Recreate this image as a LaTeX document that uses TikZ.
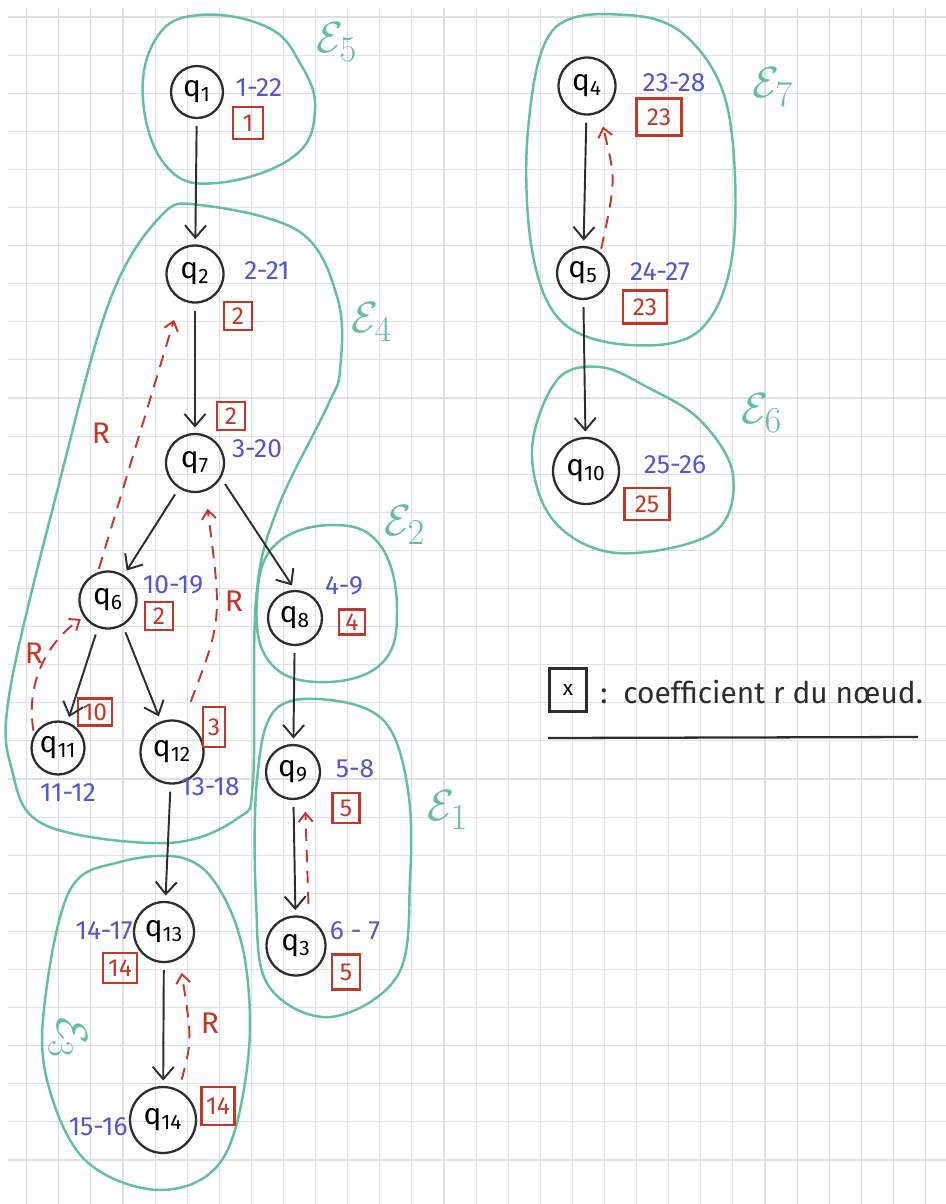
\documentclass[tikz,border=0pt]{standalone}
\usepackage{fontspec}
\setmainfont{Fira Sans}
\usetikzlibrary{arrows.meta,calc}
\definecolor{gridc}{RGB}{222,224,228}
\definecolor{greenc}{RGB}{100,190,160}
\definecolor{bluec}{RGB}{85,85,205}
\definecolor{redc}{RGB}{195,55,40}
\definecolor{inkc}{RGB}{45,45,45}
\begin{document}
\begin{tikzpicture}[x=0.02cm,y=-0.02cm,
  qnode/.style={circle, draw=inkc, line width=1.3pt, minimum size=1.12cm, inner sep=0pt, font=\fontsize{17}{17}\selectfont},
  num/.style={text=bluec, inner sep=0pt, font=\fontsize{15}{15}\selectfont},
  rbox/.style={draw=redc, line width=1.2pt, text=redc, inner sep=0pt, minimum width=0.56cm, minimum height=0.56cm, font=\fontsize{14}{14}\selectfont},
  arr/.style={draw=inkc, line width=1.1pt, -{Straight Barb[length=7pt,width=12pt,line width=1.1pt]}, shorten >=3pt, shorten <=4pt},
  back/.style={draw=redc, line width=1.1pt, dash pattern=on 7pt off 5pt, -{Straight Barb[length=5pt,width=8pt,line width=1.1pt]}},
  clus/.style={draw=greenc, line width=1.4pt},
  elab/.style={text=greenc, inner sep=0pt, font=\fontsize{30}{30}\selectfont},
  rlab/.style={text=redc, inner sep=0pt, font=\fontsize{17}{17}\selectfont}]
% background and grid
\fill[white] (0,0) rectangle (946,1204);
\useasboundingbox (0,0) rectangle (946,1204);
\foreach \i in {0,...,28} \draw[gridc, line width=0.6pt] ({26.7+32.1*\i},8) -- ({26.7+32.1*\i},1204);
\foreach \j in {0,...,30} \draw[gridc, line width=0.6pt] (8,{17+38.1*\j}) -- (946,{17+38.1*\j});

% clusters
\draw[clus] plot[smooth cycle, tension=0.7] coordinates {(200,15) (267,27) (300,63) (315,110) (293,157) (217,183) (167,167) (143,100) (157,37)};
\draw[clus] plot[smooth cycle, tension=0.6] coordinates {(200,205) (300,232) (338,300) (340,370) (328,405) (277,510) (256,600) (253,780) (238,818) (167,843) (45,825) (12,770) (10,690) (60,480) (110,300) (160,217)};
\draw[clus] plot[smooth cycle, tension=0.7] coordinates {(333,525) (380,545) (397,610) (380,665) (317,682) (268,660) (257,600) (275,545)};
\draw[clus] plot[smooth cycle, tension=0.6] coordinates {(275,710) (330,700) (385,722) (408,790) (410,880) (398,975) (330,1017) (268,985) (256,900) (257,780)};
\draw[clus] plot[smooth cycle, tension=0.6] coordinates {(183,858) (220,890) (245,960) (248,1060) (222,1160) (160,1190) (85,1160) (47,1080) (45,1000) (70,890) (120,862)};
\draw[clus] plot[smooth cycle, tension=0.6] coordinates {(627,15) (687,37) (728,110) (733,250) (700,330) (630,345) (562,322) (532,250) (528,130) (553,30)};
\draw[clus] plot[smooth cycle, tension=0.6] coordinates {(600,367) (647,387) (700,420) (733,475) (713,533) (617,553) (553,520) (532,450) (557,380)};

% cluster labels
\node[elab] (e5) at (337,42) {$\mathcal{E}_5$};
\node[elab] (e4) at (372,322) {$\mathcal{E}_4$};
\node[elab] (e2) at (405,525) {$\mathcal{E}_2$};
\node[elab] (e1) at (448,810) {$\mathcal{E}_1$};
\node[elab, rotate=-90] (e3) at (68,1038) {$\mathcal{E}_3$};
\node[elab] (e7) at (773,87) {$\mathcal{E}_7$};
\node[elab] (e6) at (762,413) {$\mathcal{E}_6$};

% nodes
\node[qnode, minimum size=1.04cm] (q1) at (197,92) {q\textsubscript{1}};
\node[qnode, minimum size=1.14cm] (q2) at (195,274) {q\textsubscript{2}};
\node[qnode, minimum size=1.16cm] (q7) at (195,463) {q\textsubscript{7}};
\node[qnode, minimum size=1.14cm] (q6) at (108,600) {q\textsubscript{6}};
\node[qnode, minimum size=1.06cm] (q11) at (58,748) {q\textsubscript{11}};
\node[qnode, minimum size=1.26cm] (q12) at (172,752) {q\textsubscript{12}};
\node[qnode, minimum size=1.08cm] (q8) at (295,618) {q\textsubscript{8}};
\node[qnode, minimum size=1.08cm] (q9) at (293,772) {q\textsubscript{9}};
\node[qnode, minimum size=1.18cm] (q3) at (296,946) {q\textsubscript{3}};
\node[qnode, minimum size=1.2cm] (q13) at (164,932) {q\textsubscript{13}};
\node[qnode, minimum size=1.32cm] (q14) at (163,1120) {q\textsubscript{14}};
\node[qnode, minimum size=1.14cm] (q4) at (587,86) {q\textsubscript{4}};
\node[qnode, minimum size=1.04cm] (q5) at (583,273) {q\textsubscript{5}};
\node[qnode, minimum size=1.32cm] (q10) at (586,471) {q\textsubscript{10}};

% interval labels
\node[num] (n1) at (259,88) {1-22};
\node[num] (n2) at (267,271) {2-21};
\node[num] (n7) at (257,449) {3-20};
\node[num] (n6) at (173,585) {10-19};
\node[num] (n11) at (68,793) {11-12};
\node[num] (n12) at (210,787) {13-18};
\node[num] (n8) at (344,586) {4-9};
\node[num] (n9) at (355,769) {5-8};
\node[num] (n3) at (355,931) {6 - 7};
\node[num, anchor=east] (n13) at (133,931) {14-17};
\node[num, anchor=east] (n14) at (128,1127) {15-16};
\node[num] (n4) at (674,83) {23-28};
\node[num] (n5) at (660,272) {24-27};
\node[num] (n10) at (675,465) {25-26};

% r coefficients
\node[rbox, minimum width=0.6cm, minimum height=0.64cm] (r1) at (248,123) {1};
\node[rbox] (r2) at (238,316) {2};
\node[rbox] (r7) at (231,416) {2};
\node[rbox] (r6) at (159,616) {2};
\node[rbox, minimum width=0.68cm, minimum height=0.54cm] (r11) at (95,712) {10};
\node[rbox, minimum width=0.44cm, minimum height=0.8cm] (r12) at (214,727) {3};
\node[rbox, minimum width=0.52cm, minimum height=0.5cm] (r8) at (352,622) {4};
\node[rbox, minimum width=0.54cm, minimum height=0.6cm] (r9) at (346,808) {5};
\node[rbox, minimum width=0.56cm, minimum height=0.7cm] (r3) at (346,972) {5};
\node[rbox, minimum width=0.68cm, minimum height=0.6cm] (r13) at (120,968) {14};
\node[rbox, minimum width=0.66cm, minimum height=0.76cm] (r14) at (218,1106) {14};
\node[rbox, minimum width=0.9cm, minimum height=0.74cm] (r4) at (659,117) {23};
\node[rbox, minimum width=0.88cm, minimum height=0.66cm] (r5) at (645,307) {23};
\node[rbox, minimum width=0.9cm, minimum height=0.64cm] (r10) at (647,504) {25};

% tree arrows
\draw[arr] (q1) -- (q2);
\draw[arr] (q2) -- (q7);
\draw[arr] (q7) -- (q6);
\draw[arr] (q7.330) -- (q8.north);
\draw[arr] (q6.250) -- (q11.70);
\draw[arr] (q6.300) -- (q12.110);
\draw[arr] (q12) -- (q13);
\draw[arr] (q13) -- (q14);
\draw[arr] (q8) -- (q9);
\draw[arr] (q9) -- (q3);
\draw[arr] (q4) -- (q5);
\draw[arr] (q5) -- (q10);

% back edges
\draw[back, shorten >=12pt, shorten <=2pt] (q6.110) -- (q2.240);
\draw[back, shorten >=10pt, shorten <=12pt] (q12.70) .. controls (222,620) .. (q7.290);
\draw[back, shorten >=2pt, shorten <=2pt] (q11.150) .. controls (25,680) and (50,640) .. (q6.215);
\draw[back, shorten >=8pt, shorten <=6pt] (q14.62) .. controls (192,1040) .. (q13.300);
\draw[back, shorten >=8pt, shorten <=8pt] (q3.65) -- (q9.295);
\draw[back, shorten >=8pt, shorten <=2pt] (q5.50) .. controls (616,180) .. (q4.295);

% R labels
\node[rlab] (R1) at (101,433) {R};
\node[rlab] (R2) at (234,601) {R};
\node[rlab] (R3) at (34,653) {R};
\node[rlab] (R4) at (210,1023) {R};

% legend
\node[draw=inkc, line width=1.2pt, minimum width=0.74cm, minimum height=0.86cm, inner sep=0pt, font=\fontsize{12}{12}\selectfont] (leg) at (568,690) {x};
\node[anchor=west, inner sep=0pt, font=\fontsize{17}{17}\selectfont, text=inkc] (legt) at (600,692) {:\ \ coefficient r du nœud.};
\draw[inkc, line width=1.3pt] (548,738) -- (918,737);
\end{tikzpicture}
\end{document}
